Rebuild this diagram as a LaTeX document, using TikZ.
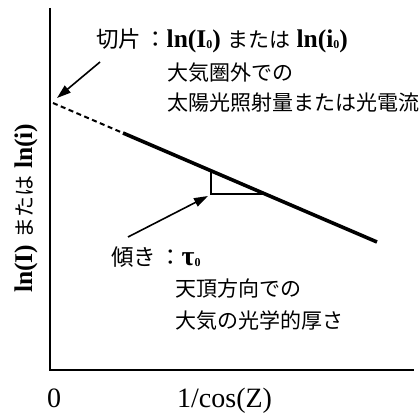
\documentclass[tikz,border=0pt]{standalone}
\usepackage{fontspec}
\setmainfont{Liberation Serif}
\newfontfamily\jp{Noto Sans CJK JP}
\usetikzlibrary{arrows.meta}
\newcommand\jtxt[1]{{\jp\fontsize{21}{24}\selectfont #1}}
\newcommand\jbig[1]{{\jp\fontsize{22.5}{24}\selectfont #1}}
\newcommand\jcolon{\hspace{3pt}\jbig{：}}
\newcommand\sbz{\raisebox{-1pt}{\fontsize{12}{14}\selectfont 0}}
\begin{document}
\begin{tikzpicture}[x=1pt,y=-1pt,
  lbl/.style={inner sep=0pt,font=\fontsize{28}{32}\selectfont},
  axisline/.style={line width=2pt},
  mainline/.style={line width=3.6pt},
  dashline/.style={line width=2pt,dash pattern=on 5pt off 3.5pt},
  tri/.style={line width=1.6pt},
  pointer/.style={line width=1.6pt,-{Triangle[length=14pt,width=9pt]}}]
\useasboundingbox (0,0) rectangle (419,412);
% axes
\coordinate (ytop) at (50,8);
\coordinate (O) at (50,370);
\coordinate (xend) at (414,370);
\draw[axisline] (ytop) -- (O) -- (xend);
% line
\coordinate (A) at (53,103);
\coordinate (B) at (123,133);
\coordinate (C) at (377,242);
\draw[dashline] (A) -- (B);
\draw[mainline] (B) -- (C);
% slope triangle
\coordinate (T1) at (211,171);
\coordinate (T2) at (211,194);
\coordinate (T3) at (265,194);
\draw[tri] (T1) -- (T2) -- (T3);
% arrows
\coordinate (a1s) at (100,62);
\coordinate (a1e) at (57,98);
\draw[pointer] (a1s) -- (a1e);
\coordinate (a2s) at (128,237);
\coordinate (a2e) at (208,196);
\draw[pointer] (a2s) -- (a2e);
% texts
\node[lbl,anchor=base west,font=\fontsize{25.5}{30}\selectfont] (t1) at (96,48) {\jbig{切片}\jcolon\textbf{ln(I\sbz)} \jtxt{または} \textbf{ln(i\sbz)}};
\node[lbl,anchor=base west] (t2) at (167,80) {\jtxt{大気圏外での}};
\node[lbl,anchor=base west] (t3) at (167,110) {\jtxt{太陽光照射量または光電流}};
\node[lbl,anchor=base west] (s1) at (111,265) {\jbig{傾き}\jcolon\textbf{τ\sbz}};
\node[lbl,anchor=base west] (s2) at (175,296) {\jtxt{天頂方向での}};
\node[lbl,anchor=base west] (s3) at (175,328) {\jtxt{大気の光学的厚さ}};
\node[lbl,anchor=base] (zero) at (54,407) {0};
\node[lbl,anchor=base west] (xl) at (177,407) {1/cos(Z)};
\node[lbl,anchor=base west,rotate=90,font=\fontsize{25.5}{30}\selectfont] (yl) at (32,293) {\textbf{ln(I)} \jtxt{または} \textbf{ln(i)}};
\end{tikzpicture}
\end{document}
